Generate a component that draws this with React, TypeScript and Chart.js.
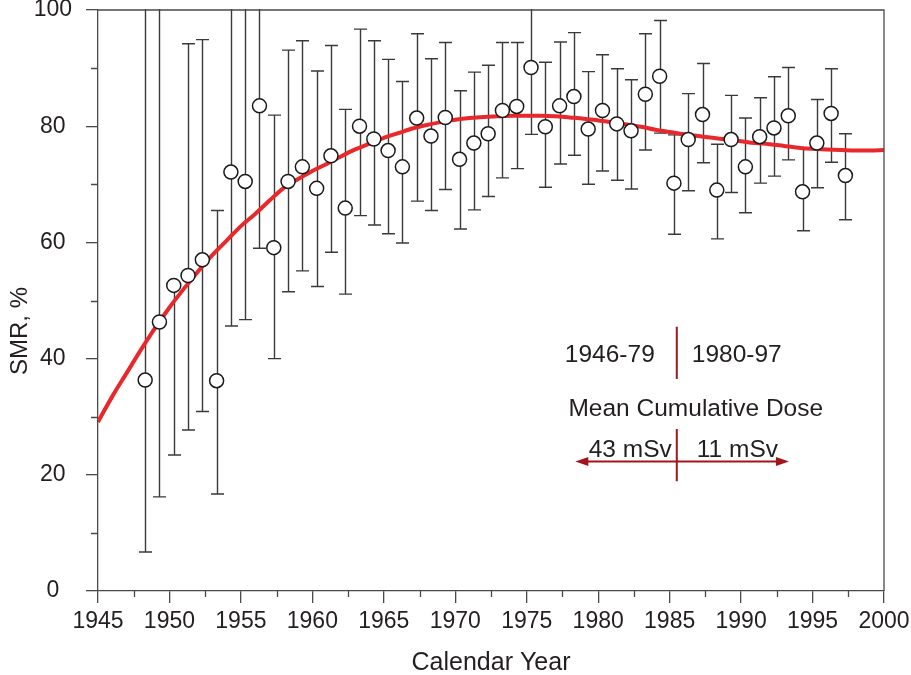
import React, { useEffect, useRef } from 'react';
import { Chart, registerables } from 'chart.js';

Chart.register(...registerables);

// ---- Data ----
const years = [
  1948, 1949, 1950, 1951, 1952, 1953, 1954, 1955, 1956, 1957,
  1958, 1959, 1960, 1961, 1962, 1963, 1964, 1965, 1966, 1967,
  1968, 1969, 1970, 1971, 1972, 1973, 1974, 1975, 1976, 1977,
  1978, 1979, 1980, 1981, 1982, 1983, 1984, 1985, 1986, 1987,
  1988, 1989, 1990, 1991, 1992, 1993, 1994, 1995, 1996, 1997,
];
const smr = [
  36.3, 46.3, 52.6, 54.3, 57.0, 36.2, 72.1, 70.5, 83.5, 59.1,
  70.5, 73.0, 69.3, 74.9, 65.9, 80.0, 77.8, 75.8, 73.0, 81.4,
  78.3, 81.5, 74.3, 77.1, 78.7, 82.7, 83.4, 90.1, 79.9, 83.5,
  85.1, 79.5, 82.7, 80.4, 79.2, 85.5, 88.6, 70.2, 77.7, 82.0,
  69.0, 77.7, 73.0, 78.2, 79.7, 81.8, 68.7, 77.1, 82.2, 71.5,
];
const lower = [
  6.7, 16.2, 23.4, 27.7, 30.9, 16.7, 45.6, 46.7, 59.0, 40.0,
  51.5, 55.1, 52.4, 58.3, 51.1, 64.6, 63.0, 61.5, 59.9, 67.1,
  65.5, 69.1, 62.3, 65.6, 67.9, 71.1, 72.7, 78.6, 69.5, 73.5,
  75.0, 70.0, 72.3, 70.7, 69.2, 75.9, 78.8, 61.4, 68.9, 73.7,
  60.6, 68.6, 65.1, 70.2, 71.4, 74.2, 62.0, 69.4, 73.8, 63.9,
];
// null = no upper whisker drawn; values above 100 run off the top of the plot
const upper: (number | null)[] = [
  120, 120, null, 94.2, 94.9, 65.5, 115, 115, 115, 81.9,
  93.1, 94.7, 89.5, 93.9, 82.9, 96.7, 94.7, 91.5, 87.7, 95.9,
  91.6, 94.4, 86.1, 89.3, 90.5, 94.4, 94.4, 103, 91.0, 94.5,
  96.1, 89.4, 92.3, 89.9, 88.0, 95.9, 98.2, 78.5, 85.6, 90.8,
  76.9, 85.3, 81.4, 84.9, 88.5, 90.1, 76.3, 84.6, 89.9, 78.7,
];
const yearOffset = 0.3; // points sit a little past the start of each calendar year

const fitYears = [
  1945, 1946, 1947, 1948, 1949, 1950, 1951, 1952, 1953, 1954,
  1955, 1956, 1957, 1958, 1959, 1960, 1961, 1962, 1963, 1964,
  1965, 1966, 1967, 1968, 1969, 1970, 1971, 1972, 1973, 1974,
  1975, 1976, 1977, 1978, 1979, 1980, 1981, 1982, 1983, 1984,
  1985, 1986, 1987, 1988, 1989, 1990, 1991, 1992, 1993, 1994,
  1995, 1996, 1997, 1998, 1999, 2000,
];
const fitSmr = [
  29.1, 33.5, 37.5, 41.5, 45.3, 48.8, 52.0, 55.0, 57.8, 60.3,
  62.8, 64.9, 67.2, 69.4, 70.9, 72.3, 73.5, 74.8, 76.0, 77.0,
  78.0, 78.8, 79.6, 80.2, 80.7, 81.1, 81.4, 81.6, 81.7, 81.8,
  81.8, 81.8, 81.7, 81.5, 81.3, 81.0, 80.7, 80.3, 79.9, 79.4,
  79.0, 78.6, 78.3, 78.0, 77.7, 77.4, 77.1, 76.9, 76.6, 76.3,
  76.1, 76.0, 75.9, 75.8, 75.8, 75.9,
];

const xTickValues = [1945, 1950, 1955, 1960, 1965, 1970, 1975, 1980, 1985, 1990, 1995, 2000];
const xMinorTicks = [1947.5, 1952.5, 1957.5, 1962.5, 1967.5, 1972.5, 1977.5, 1982.5, 1987.5, 1992.5, 1997.5];
const yTickValues = [0, 20, 40, 60, 80, 100];
const yMinorTicks = [10, 30, 50, 70, 90];

const xTitle = 'Calendar Year';
const yTitle = 'SMR, %';
const periodLabels = ['1946-79', '1980-97'];
const doseTitle = 'Mean Cumulative Dose';
const doseLabels = ['43 mSv', '11 mSv'];
const periodSplitYear = 1985.5;

// ---- Styles ----
const FONT = '"Liberation Sans", Arial, Helvetica, sans-serif';
const TEXT = '#231f20';
const AXIS = '#4a4a4a';
const BAR = '#3a3a3a';
const RED = '#e8282b';
const DARKRED = '#a3151b';

const errorBarPlugin = {
  id: 'errorBars',
  beforeDatasetsDraw(chart: any) {
    const { ctx, chartArea, scales } = chart;
    const x = scales.x;
    const y = scales.y;
    ctx.save();
    ctx.beginPath();
    ctx.rect(chartArea.left, chartArea.top - 1, chartArea.right - chartArea.left, chartArea.bottom - chartArea.top + 1);
    ctx.clip();
    ctx.strokeStyle = BAR;
    ctx.lineWidth = 1.4;
    const cap = 6.5;
    years.forEach((yr, i) => {
      const px = Math.round(x.getPixelForValue(yr + yearOffset)) + 0.5;
      const pc = y.getPixelForValue(smr[i]);
      const lo = y.getPixelForValue(lower[i]);
      ctx.beginPath();
      ctx.moveTo(px, pc);
      ctx.lineTo(px, lo);
      ctx.moveTo(px - cap, lo);
      ctx.lineTo(px + cap, lo);
      const u = upper[i];
      if (u !== null) {
        const hi = y.getPixelForValue(u);
        ctx.moveTo(px, pc);
        ctx.lineTo(px, hi);
        if (u <= 100) {
          ctx.moveTo(px - cap, hi);
          ctx.lineTo(px + cap, hi);
        }
      }
      ctx.stroke();
    });
    ctx.restore();
  },
};

const decorPlugin = {
  id: 'decor',
  afterDraw(chart: any) {
    const { ctx, chartArea, scales } = chart;
    const x = scales.x;
    const y = scales.y;
    ctx.save();
    // top and right frame
    ctx.strokeStyle = AXIS;
    ctx.lineWidth = 1.3;
    ctx.beginPath();
    ctx.moveTo(chartArea.left, chartArea.top);
    ctx.lineTo(chartArea.right, chartArea.top);
    ctx.lineTo(chartArea.right, chartArea.bottom);
    ctx.stroke();
    // minor ticks
    ctx.beginPath();
    xMinorTicks.forEach((v) => {
      const px = Math.round(x.getPixelForValue(v)) + 0.5;
      ctx.moveTo(px, chartArea.bottom);
      ctx.lineTo(px, chartArea.bottom + 6);
    });
    yMinorTicks.forEach((v) => {
      const py = Math.round(y.getPixelForValue(v)) + 0.5;
      ctx.moveTo(chartArea.left, py);
      ctx.lineTo(chartArea.left - 7, py);
    });
    ctx.stroke();

    // axis titles
    ctx.fillStyle = TEXT;
    ctx.font = `25px ${FONT}`;
    ctx.textAlign = 'center';
    ctx.textBaseline = 'middle';
    ctx.fillText(xTitle, (chartArea.left + chartArea.right) / 2, 663);
    ctx.font = `24px ${FONT}`;
    ctx.save();
    ctx.translate(20, 331);
    ctx.rotate(-Math.PI / 2);
    ctx.fillText(yTitle, 0, 0);
    ctx.restore();

    // annotation
    const sx = x.getPixelForValue(periodSplitYear);
    ctx.strokeStyle = DARKRED;
    ctx.fillStyle = DARKRED;
    ctx.lineWidth = 2;
    ctx.beginPath();
    ctx.moveTo(sx, y.getPixelForValue(45.5));
    ctx.lineTo(sx, y.getPixelForValue(36.5));
    ctx.moveTo(sx, y.getPixelForValue(27.9));
    ctx.lineTo(sx, y.getPixelForValue(18.9));
    const ay = y.getPixelForValue(22.3);
    const ax0 = x.getPixelForValue(1978.4);
    const ax1 = x.getPixelForValue(1993.35);
    ctx.moveTo(ax0 + 8, ay);
    ctx.lineTo(ax1 - 8, ay);
    ctx.stroke();
    ctx.beginPath();
    ctx.moveTo(ax0, ay);
    ctx.lineTo(ax0 + 13, ay - 4.5);
    ctx.lineTo(ax0 + 13, ay + 4.5);
    ctx.closePath();
    ctx.moveTo(ax1, ay);
    ctx.lineTo(ax1 - 13, ay - 4.5);
    ctx.lineTo(ax1 - 13, ay + 4.5);
    ctx.closePath();
    ctx.fill();

    ctx.fillStyle = TEXT;
    ctx.font = `24.5px ${FONT}`;
    ctx.textBaseline = 'alphabetic';
    const b1 = y.getPixelForValue(39.4);
    ctx.textAlign = 'right';
    ctx.fillText(periodLabels[0], sx - 22, b1);
    ctx.textAlign = 'left';
    ctx.fillText(periodLabels[1], sx + 15, b1);
    ctx.textAlign = 'center';
    ctx.fillText(doseTitle, sx + 19, y.getPixelForValue(30.1));
    const b3 = y.getPixelForValue(23.1);
    ctx.textAlign = 'right';
    ctx.fillText(doseLabels[0], sx - 5, b3);
    ctx.textAlign = 'left';
    ctx.fillText(doseLabels[1], sx + 20, b3);
    ctx.restore();
  },
};

export default function App() {
  const canvasRef = useRef<HTMLCanvasElement | null>(null);

  useEffect(() => {
    const canvas = canvasRef.current;
    if (!canvas) return;
    Chart.defaults.font.family = FONT;
    const chart = new Chart(canvas, {
      type: 'scatter',
      data: {
        datasets: [
          {
            label: 'SMR',
            data: years.map((yr, i) => ({ x: yr + yearOffset, y: smr[i] })),
            pointRadius: 7,
            pointBackgroundColor: '#ffffff',
            pointBorderColor: '#1a1a1a',
            pointBorderWidth: 1.5,
            showLine: false,
            order: 0,
          },
          {
            label: 'Fit',
            data: fitYears.map((yr, i) => ({ x: yr, y: fitSmr[i] })),
            showLine: true,
            borderColor: RED,
            borderWidth: 4,
            pointRadius: 0,
            cubicInterpolationMode: 'monotone',
            order: 1,
          } as any,
        ],
      },
      options: {
        animation: false,
        responsive: false,
        devicePixelRatio: 1,
        layout: { padding: { top: 10, right: 27, left: 0, bottom: 0 } },
        plugins: { legend: { display: false }, tooltip: { enabled: false } },
        scales: {
          x: {
            type: 'linear',
            min: 1945,
            max: 2000,
            afterBuildTicks: (s: any) => {
              s.ticks = xTickValues.map((v) => ({ value: v }));
            },
            afterFit: (s: any) => {
              s.height = 84;
              s.paddingLeft = 0;
              s.paddingRight = 0;
              s.paddingTop = 0;
              s.paddingBottom = 0;
            },
            grid: { drawOnChartArea: false, tickLength: 12, color: AXIS, lineWidth: 1.3 },
            border: { color: AXIS, width: 1.3 },
            ticks: {
              color: TEXT,
              font: { size: 23, lineHeight: 1 },
              padding: 7,
              maxRotation: 0,
              autoSkip: false,
              callback: (v: any) => String(v),
            },
          },
          y: {
            type: 'linear',
            min: 0,
            max: 100,
            afterBuildTicks: (s: any) => {
              s.ticks = yTickValues.map((v) => ({ value: v }));
            },
            afterFit: (s: any) => {
              s.width = 98;
              s.paddingLeft = 0;
              s.paddingRight = 0;
              s.paddingTop = 0;
              s.paddingBottom = 0;
            },
            grid: { drawOnChartArea: false, tickLength: 12, color: AXIS, lineWidth: 1.3 },
            border: { color: AXIS, width: 1.3 },
            ticks: {
              color: TEXT,
              font: { size: 23, lineHeight: 1 },
              padding: 14,
              crossAlign: 'center',
              callback: (v: any) => String(v),
            },
          },
        },
      },
      plugins: [errorBarPlugin, decorPlugin],
    } as any);
    return () => chart.destroy();
  }, []);

  return (
    <div style={{ position: 'absolute', left: 0, top: 0, width: 911, height: 675, background: '#fff' }}>
      <canvas ref={canvasRef} width={911} height={675} style={{ display: 'block' }} />
    </div>
  );
}
